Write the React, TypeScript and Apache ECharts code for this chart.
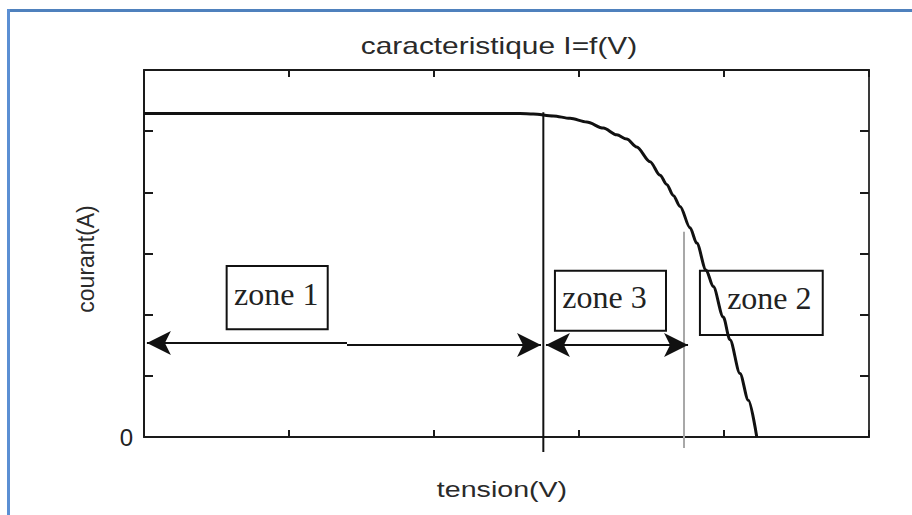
import React, { useEffect, useRef } from 'react';
import * as echarts from 'echarts';

// ---- data ----
const chartTitle = 'caracteristique I=f(V)';
const xAxisName = 'tension(V)';
const yAxisName = 'courant(A)';
const yTickLabels = ['0'];

// I-V curve (tension in axis units 0..5, courant in axis units 0..6)
const curveV = [0, 2.593, 2.685, 2.823, 2.938, 3.053, 3.168, 3.26, 3.329, 3.398, 3.49, 3.559, 3.605, 3.65, 3.697, 3.766, 3.812, 3.876, 3.926, 3.995, 4.041, 4.11, 4.168, 4.226];
const curveI = [5.29, 5.29, 5.28, 5.25, 5.21, 5.15, 5.05, 4.94, 4.87, 4.74, 4.5, 4.28, 4.13, 3.95, 3.77, 3.42, 3.17, 2.73, 2.46, 1.96, 1.59, 1.04, 0.6, 0.0];

// zone boundaries (vertical dividers)
const dividerV = [2.754, 3.724];
const dividerTop = [5.31, 3.356];
const dividerBottom = [-0.245, -0.18];

// zone boxes
const zoneNames = ['zone 1', 'zone 3', 'zone 2'];
const zoneX0 = [0.57, 2.834, 3.834];
const zoneX1 = [1.267, 3.6, 4.681];
const zoneYLow = [1.761, 1.738, 1.667];
const zoneYHigh = [2.796, 2.719, 2.719];
const zoneLabelShift = [[-1, -4], [-6, -4], [8, -5]];

// double-headed arrows
const arrowFrom = [0.02, 1.4, 2.772];
const arrowTo = [1.4, 2.738, 3.752];
const arrowLevel = [1.537, 1.504, 1.504];
const arrowStartHead = [true, false, true];
const arrowEndHead = [false, true, true];

export default function App() {
  const ref = useRef<HTMLDivElement>(null);

  useEffect(() => {
    if (!ref.current) return;
    const chart = echarts.init(ref.current, undefined, { renderer: 'svg' });

    const axisDark = '#1a1a1a';
    const baseX = {
      type: 'value' as const,
      min: 0,
      max: 5,
      interval: 1,
      axisLine: { show: true, onZero: false, lineStyle: { color: axisDark, width: 2 } },
      axisTick: { show: true, inside: true, length: 7, lineStyle: { color: axisDark, width: 2 } },
      axisLabel: { show: false },
      splitLine: { show: false },
    };
    const baseY = {
      type: 'value' as const,
      min: 0,
      max: 6,
      interval: 1,
      axisLine: { show: true, onZero: false, lineStyle: { color: axisDark, width: 2 } },
      axisTick: { show: true, inside: true, length: 9, lineStyle: { color: axisDark, width: 2 } },
      splitLine: { show: false },
    };

    const arrowData = arrowFrom.map((x0, i) => [
      { coord: [x0, arrowLevel[i]], symbol: arrowStartHead[i] ? 'arrow' : 'none' },
      { coord: [arrowTo[i], arrowLevel[i]], symbol: arrowEndHead[i] ? 'arrow' : 'none' },
    ]);

    const zoneData = zoneNames.map((name, i) => [
      { name, coord: [zoneX0[i], zoneYHigh[i]], label: { offset: zoneLabelShift[i] } },
      { coord: [zoneX1[i], zoneYLow[i]] },
    ]);

    chart.setOption({
      animation: false,
      backgroundColor: '#ffffff',
      grid: { left: 144, top: 70, right: 43, bottom: 78 },
      xAxis: [
        { ...baseX, position: 'bottom' },
        { ...baseX, position: 'top' },
      ],
      yAxis: [
        {
          ...baseY,
          position: 'left',
          axisLabel: {
            show: true,
            margin: 11,
            fontSize: 24,
            fontFamily: 'Liberation Sans',
            color: '#222',
            formatter: (v: number) => (v === 0 ? yTickLabels[0] : ''),
          },
        },
        {
          ...baseY,
          position: 'right',
          axisLine: { show: true, onZero: false, lineStyle: { color: '#3a3a3a', width: 2 } },
          axisLabel: { show: false },
        },
      ],
      graphic: [
        { type: 'rect', shape: { x: 7, y: 9, width: 905, height: 3 }, style: { fill: '#4f81bd' }, silent: true },
        { type: 'rect', shape: { x: 7, y: 9, width: 3, height: 506 }, style: { fill: '#5b8fd3' }, silent: true },
        {
          type: 'text', x: 499, y: 46, scaleX: 1.3,
          style: { text: chartTitle, fontFamily: 'Liberation Sans', fontSize: 23, fill: '#2a2a2a', textAlign: 'center', textVerticalAlign: 'middle' },
        },
        {
          type: 'text', x: 502, y: 489, scaleX: 1.3,
          style: { text: xAxisName, fontFamily: 'Liberation Sans', fontSize: 22, fill: '#2a2a2a', textAlign: 'center', textVerticalAlign: 'middle' },
        },
        {
          type: 'text', x: 86, y: 259, rotation: Math.PI / 2,
          style: { text: yAxisName, fontFamily: 'Liberation Sans', fontSize: 23, fill: '#2a2a2a', textAlign: 'center', textVerticalAlign: 'middle' },
        },
      ],
      series: [
        {
          name: 'I=f(V)',
          type: 'line',
          data: curveV.map((v, i) => [v, curveI[i]]),
          symbol: 'none',
          smooth: 0.3,
          smoothMonotone: 'x',
          lineStyle: { color: '#111', width: 3 },
          z: 3,
          markArea: {
            silent: true,
            itemStyle: { color: 'rgba(0,0,0,0)', borderColor: '#111', borderWidth: 2 },
            label: {
              show: true,
              position: 'inside',
              fontFamily: 'Liberation Serif',
              fontSize: 32,
              color: '#222',
            },
            data: zoneData,
          },
        },
        {
          name: 'limite 1-3',
          type: 'line',
          data: [[dividerV[0], dividerTop[0]], [dividerV[0], dividerBottom[0]]],
          symbol: 'none',
          clip: false,
          lineStyle: { color: '#111', width: 2 },
          z: 4,
          markLine: {
            silent: true,
            symbolSize: [18, 24],
            lineStyle: { color: '#111', width: 2, type: 'solid' },
            label: { show: false },
            data: arrowData,
          },
        },
        {
          name: 'limite 3-2',
          type: 'line',
          data: [[dividerV[1], dividerTop[1]], [dividerV[1], dividerBottom[1]]],
          symbol: 'none',
          clip: false,
          lineStyle: { color: '#a8a8a8', width: 2 },
          z: 2,
        },
      ],
    });

    return () => chart.dispose();
  }, []);

  return <div ref={ref} style={{ position: 'fixed', left: 0, top: 0, width: 912, height: 515 }} />;
}
